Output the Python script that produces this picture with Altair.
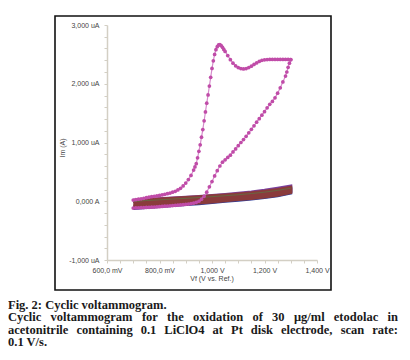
import altair as alt
import pandas as pd

# ---------------- data ----------------
# Sample scan (magenta), forward branch (mV, uA)
fwd_v = [700, 710, 720, 730, 740, 750, 760, 770, 780, 790, 800, 810, 820, 830, 840, 850,
         860, 870, 880, 890, 900, 910, 920, 930, 935, 940, 945, 950, 955, 960, 965, 970,
         975, 980, 985, 990, 995, 1000, 1005, 1010, 1015, 1020, 1025, 1030, 1035, 1040,
         1045, 1050, 1060, 1070, 1080, 1090, 1100, 1110, 1120, 1130, 1140, 1150, 1160,
         1170, 1180, 1190, 1200, 1210, 1220, 1230, 1240, 1250, 1260, 1270, 1280, 1290, 1300]
fwd_i = [20, 28, 35, 42, 50, 60, 70, 77, 85, 92, 100, 108, 118, 128, 140, 155,
         170, 192, 220, 260, 310, 370, 440, 530, 585, 640, 740, 850, 960, 1090, 1220, 1370,
         1520, 1670, 1810, 1960, 2110, 2260, 2390, 2500, 2580, 2630, 2660, 2665, 2650, 2620,
         2585, 2550, 2480, 2410, 2350, 2305, 2275, 2258, 2252, 2258, 2275, 2300, 2328,
         2355, 2380, 2398, 2408, 2412, 2414, 2414, 2414, 2414, 2414, 2414, 2414, 2414, 2412]
# Sample scan, reverse branch
rev_v = [1300, 1295, 1290, 1285, 1280, 1270, 1260, 1250, 1240, 1230, 1220, 1210, 1200,
         1190, 1180, 1170, 1160, 1150, 1140, 1130, 1120, 1110, 1100, 1090, 1080, 1070,
         1060, 1050, 1040, 1030, 1020, 1010, 1000, 990, 980, 970, 960, 950, 940, 930,
         920, 910, 900, 890, 880, 870, 860, 850, 840, 830, 820, 810, 800, 790, 780, 770,
         760, 750, 740, 730, 720, 710, 700]
rev_i = [2410, 2350, 2280, 2200, 2130, 2030, 1930, 1840, 1760, 1700, 1650, 1590, 1525,
         1465, 1405, 1345, 1285, 1225, 1165, 1105, 1050, 1000, 945, 890, 840, 785,
         745, 705, 665, 600, 520, 430, 335, 245, 155, 85, 35, 0, -18, -30,
         -40, -47, -53, -58, -62, -66, -70, -74, -78, -82, -85, -89, -92, -95, -98, -100,
         -103, -105, -108, -110, -112, -114, -116]

# Blank (background) cycles
blank_v = [700, 750, 800, 850, 900, 950, 1000, 1050, 1100, 1150, 1200, 1250, 1300]
purple_fwd = [15, 30, 42, 55, 68, 83, 98, 116, 135, 158, 186, 220, 258]
purple_rev = [-95, -80, -66, -52, -38, -22, -4, 16, 36, 57, 82, 112, 160]
blue_fwd = [-10, 8, 20, 32, 44, 58, 72, 88, 105, 125, 150, 181, 216]
blue_rev = [-125, -105, -88, -72, -57, -41, -22, -2, 18, 38, 63, 93, 138]
brown_fwd = [10, 25, 38, 50, 62, 78, 92, 108, 125, 145, 170, 200, 238]
brown_rev = [-110, -92, -76, -61, -46, -30, -12, 8, 28, 48, 73, 103, 148]
brown2_fwd = [-25, -8, 6, 18, 30, 44, 58, 74, 91, 110, 134, 164, 200]
brown2_rev = [-75, -60, -46, -33, -20, -6, 10, 28, 46, 66, 90, 120, 168]
green_fwd = [-5, 12, 25, 37, 49, 64, 78, 94, 111, 131, 155, 185, 222]

blank_series = ["purple", "blue", "brown", "brown2", "green"]
blank_colors = ["#7b3f9e", "#2b3c9c", "#8a3b3c", "#8a3b3c", "#4d8a45"]

y_ticks = [-1000, -800, -600, -400, -200, 0, 200, 400, 600, 800, 1000, 1200, 1400,
           1600, 1800, 2000, 2200, 2400, 2600, 2800, 3000]
y_label_vals = [3000, 2000, 1000, 0, -1000]
y_label_txt = ["3,000 uA", "2,000 uA", "1,000 uA", "0,000 A", "-1,000 uA"]
x_ticks = list(range(600, 1401, 50))
x_label_vals = [600, 800, 1000, 1200, 1400]
x_label_txt = ["600,0 mV", "800,0 mV", "1,000 V", "1,200 V", "1,400 V"]

x_title = "Vf (V vs. Ref.)"
y_title = "Im (A)"
caption = [
    "Fig. 2: Cyclic voltammogram.",
    "Cyclic voltammogram for the oxidation of 30 \u03bcg/ml etodolac in",
    "acetonitrile containing 0.1 LiClO4 at Pt disk electrode, scan rate:",
    "0.1 V/s.",
]
caption_justified = [False, True, True, False]

# ---------------- tables ----------------
sample = pd.DataFrame({
    "V": fwd_v + rev_v,
    "I": fwd_i + rev_i,
    "o": list(range(len(fwd_v) + len(rev_v))),
})

rows = []
pairs = {
    "purple": (purple_fwd, purple_rev),
    "blue": (blue_fwd, blue_rev),
    "brown": (brown_fwd, brown_rev),
    "brown2": (brown2_fwd, brown2_rev),
    "green": (green_fwd, None),
}
for s in blank_series:
    f, r = pairs[s]
    k = 0
    for v, i in zip(blank_v, f):
        rows.append({"s": s, "V": v, "I": i, "o": k}); k += 1
    if r is not None:
        for v, i in zip(blank_v[::-1], r[::-1]):
            rows.append({"s": s, "V": v, "I": i, "o": k}); k += 1
blank = pd.DataFrame(rows)


def expr_map(vals, txts):
    e = "''"
    for v, t in zip(vals[::-1], txts[::-1]):
        e = f"datum.value == {v} ? '{t}' : ({e})"
    return e


AX = "#d3cfc4"
xscale = alt.Scale(domain=[600, 1400], nice=False, zero=False)
yscale = alt.Scale(domain=[-1000, 3000], nice=False, zero=False)
xaxis = alt.Axis(values=x_ticks, labelExpr=expr_map(x_label_vals, x_label_txt), title=None,
                 grid=False, tickSize=3, labelPadding=3, domainColor=AX, tickColor=AX,
                 domainWidth=1.5, labelFont="Liberation Sans", labelFontSize=7,
                 labelColor="#444444", labelFlush=False, labelOverlap=False)
yaxis = alt.Axis(values=y_ticks, labelExpr=expr_map(y_label_vals, y_label_txt), title=None,
                 grid=False, tickSize=3, labelPadding=5, domainColor=AX, tickColor=AX,
                 domainWidth=1.5, labelFont="Liberation Sans", labelFontSize=7,
                 labelColor="#444444", labelFlush=False, labelOverlap=False)

X = alt.X("V:Q", scale=xscale, axis=xaxis)
Y = alt.Y("I:Q", scale=yscale, axis=yaxis)

blank_thick = blank[blank.s != "green"]
blank_thin = blank[blank.s == "green"]
cscale = alt.Scale(domain=blank_series, range=blank_colors)
blank_layer = alt.Chart(blank_thick).mark_line(strokeWidth=3).encode(
    x=X, y=Y, order="o:Q", detail="s:N",
    color=alt.Color("s:N", scale=cscale, legend=None),
)
green_layer = alt.Chart(blank_thin).mark_line(strokeWidth=0.8, opacity=0.7).encode(
    x=X, y=Y, order="o:Q",
    color=alt.Color("s:N", scale=cscale, legend=None),
)

sample_line = alt.Chart(sample).mark_line(color="#d58bcb", strokeWidth=1.2).encode(
    x=X, y=Y, order="o:Q")
sample_pts = alt.Chart(sample).mark_circle(color="#c04ca8", size=14, opacity=1).encode(x=X, y=Y)

# frame and texts (positions in plot pixels; plot origin at page (107, 25))
one = pd.DataFrame({"a": [0]})
frame = alt.Chart(one).mark_rect(fill=None, stroke="#111111", strokeWidth=1.6).encode(
    x=alt.value(-52), x2=alt.value(224), y=alt.value(-9), y2=alt.value(265))

xt = alt.Chart(pd.DataFrame({"t": [x_title]})).mark_text(
    font="Liberation Sans", fontSize=7, color="#444444", align="center", baseline="middle"
).encode(text="t:N", x=alt.value(105), y=alt.value(254))
yt = alt.Chart(pd.DataFrame({"t": [y_title]})).mark_text(
    font="Liberation Sans", fontSize=7, color="#444444", align="center", baseline="middle",
    angle=270
).encode(text="t:N", x=alt.value(-44), y=alt.value(123))

# Times-Bold (Liberation Serif Bold) advance widths, 1/1000 em, for justification
W = {"a": 500, "c": 444, "d": 556, "e": 444, "f": 333, "g": 500, "h": 556, "i": 278,
     "k": 556, "l": 278, "m": 833, "n": 556, "o": 500, "r": 444, "s": 389, "t": 333,
     "v": 500, "x": 500, "y": 500, "C": 722, "L": 667, "O": 778, "P": 611, "0": 500,
     "1": 500, "3": 500, "4": 500, "/": 278, ",": 250, ".": 250, ":": 333, "\u03bc": 556}
FS = 12.5
X0, X1 = -99, 291
cap_y = [279.5, 292, 304.5, 317]
cap_layers = []


def word_w(w):
    return sum(W.get(ch, 500) for ch in w) * FS / 1000.0


def text_layer(t, x, y):
    return alt.Chart(pd.DataFrame({"t": [t]})).mark_text(
        font="Liberation Serif", fontSize=FS, fontWeight="bold", color="#1a1a1a",
        align="left", baseline="middle"
    ).encode(text="t:N", x=alt.value(x), y=alt.value(y))


for line, yy, just in zip(caption, cap_y, caption_justified):
    if not just:
        cap_layers.append(text_layer(line, X0, yy))
        continue
    words = line.split(" ")
    widths = [word_w(w) for w in words]
    gap = (X1 - X0 - sum(widths)) / (len(words) - 1)
    xx = X0
    for w, ww in zip(words, widths):
        cap_layers.append(text_layer(w, round(xx, 1), yy))
        xx += ww + gap

chart = alt.layer(frame, blank_layer, green_layer, sample_line, sample_pts, xt, yt,
                  *cap_layers).properties(
    width=210, height=235,
    autosize=alt.AutoSizeParams(type="none"),
    padding={"left": 99, "top": 17, "right": 85, "bottom": 92},
).configure_view(stroke=None)

chart.save("out.html", embed_options={"renderer": "svg", "actions": False})
